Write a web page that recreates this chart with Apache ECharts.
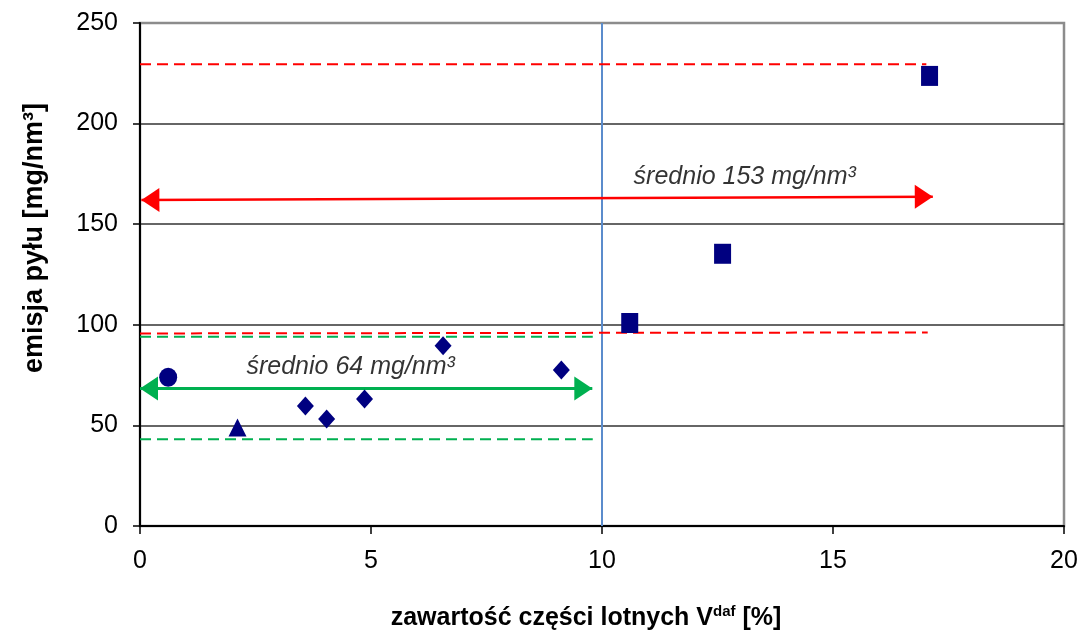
<!DOCTYPE html>
<html><head><meta charset="utf-8">
<script src="https://cdn.jsdelivr.net/npm/echarts@6/dist/echarts.min.js"></script>
<style>html,body{margin:0;padding:0;background:#fff}#c{width:1080px;height:635px}</style>
</head><body><div id="c"></div>
<script>
// Data (x = volatile content V_daf [%], y = dust emission [mg/nm3])
const circlePts   = [[0.61, 73.9]];
const trianglePts = [[2.11, 49.0]];
const diamondPts  = [[3.58, 59.6], [4.04, 53.2], [4.86, 63.1], [6.56, 89.6], [9.12, 77.5]];
const squarePts   = [[10.6, 100.9], [12.61, 135.3], [17.09, 223.7]];
const redUpper    = [[0, 229.5], [17.02, 229.5]];
const redLower    = [[0, 95.7], [17.05, 96.2]];
const greenUpper  = [[0, 94.1], [9.8, 94.1]];
const greenLower  = [[0, 43.1], [9.8, 43.1]];
const redArrow    = [[0.03, 162.0], [17.16, 163.7]];
const greenArrow  = [[0.0, 68.4], [9.79, 68.4]];
const dividerLine = [[10, 0], [10, 250]];
const annoX = [13.09, 4.56];
const annoY = [173.5, 79.0];
const annoText = ['średnio 153 mg/nm³', 'średnio 64 mg/nm³'];
const yTicks = [0, 50, 100, 150, 200, 250];
const xTicks = [0, 5, 10, 15, 20];

const FONT = 'Liberation Sans, Arial, sans-serif';
const NAVY = '#000080';
const RED = '#ff0000';
const GREEN = '#00b050';

function dashed(data, color) {
  return { type: 'line', data: data, symbol: 'none', silent: true, z: 3,
    lineStyle: { color: color, width: 2, type: [11, 6] } };
}
function arrow(data, color, w) {
  return { type: 'line', data: [], symbol: 'none', silent: true, z: 4,
    markLine: { silent: true, symbol: ['triangle', 'triangle'], symbolSize: [24, 18],
      symbolOffset: [[0, 9], [0, 9]],
      label: { show: false },
      lineStyle: { color: color, width: w, type: 'solid' },
      data: [[{ coord: data[0] }, { coord: data[1] }]] } };
}
function scatter(data, sym, size) {
  return { type: 'scatter', data: data, symbol: sym, symbolSize: size, z: 6,
    itemStyle: { color: NAVY, opacity: 1 } };
}

const chart = echarts.init(document.getElementById('c'));
chart.setOption({
  animation: false,
  backgroundColor: '#fff',
  textStyle: { fontFamily: FONT },
  grid: { left: 140, right: 16, top: 23, bottom: 109, show: true, borderColor: '#8c8c8c', borderWidth: 2.5,
    containLabel: false, outerBoundsMode: 'none' },
  xAxis: {
    type: 'value', min: xTicks[0], max: xTicks[xTicks.length - 1], interval: 5,
    axisLine: { show: true, onZero: false, lineStyle: { color: '#000', width: 2 } },
    axisTick: { show: true, length: 8, lineStyle: { color: '#000', width: 1.5 } },
    axisLabel: { fontSize: 25, color: '#000', margin: 23, fontFamily: FONT },
    splitLine: { show: false },
    name: '{b|zawartość części lotnych V}{s|daf}{b| [%]}',
    nameLocation: 'middle', nameGap: 78,
    nameTextStyle: { padding: [0, 32, 0, 0],
      rich: {
        b: { fontSize: 25, fontWeight: 'bold', color: '#000', fontFamily: FONT, lineHeight: 28 },
        s: { fontSize: 15, fontWeight: 'bold', color: '#000', fontFamily: FONT, verticalAlign: 'top', lineHeight: 28 }
      } }
  },
  yAxis: {
    type: 'value', min: yTicks[0], max: yTicks[yTicks.length - 1], interval: 50,
    axisLine: { show: true, lineStyle: { color: '#000', width: 2 } },
    axisTick: { show: true, length: 7, lineStyle: { color: '#000', width: 1.5 } },
    axisLabel: { fontSize: 25, color: '#000', margin: 22, fontFamily: FONT },
    splitLine: { show: true, lineStyle: { color: ['#333', '#333', '#333', '#333', '#333', '#8c8c8c'], width: 1.5 } },
    name: 'emisja pyłu [mg/nm³]',
    nameLocation: 'middle', nameGap: 92, nameRotate: 90,
    nameTextStyle: { fontSize: 27, fontWeight: 'bold', color: '#000', fontFamily: FONT, padding: [0, 0, 0, 73] }
  },
  series: [
    { type: 'line', data: dividerLine, symbol: 'none', silent: true, z: 2,
      lineStyle: { color: '#5b8ccc', width: 2 } },
    dashed(redUpper, RED),
    dashed(redLower, RED),
    dashed(greenUpper, GREEN),
    dashed(greenLower, GREEN),
    arrow(redArrow, RED, 2.5),
    arrow(greenArrow, GREEN, 3),
    scatter(circlePts, 'circle', [18, 19]),
    scatter(trianglePts, 'triangle', [18, 18]),
    scatter(diamondPts, 'diamond', [17, 19]),
    scatter(squarePts, 'rect', [17, 20]),
    { type: 'scatter', data: annoX.map((x, i) => [x, annoY[i], annoText[i]]), symbolSize: 0, z: 7, silent: true,
      label: { show: true, position: 'inside', formatter: p => p.data[2],
        fontSize: 25, fontStyle: 'italic', color: '#000', fontFamily: FONT } }
  ]
});
</script></body></html>
